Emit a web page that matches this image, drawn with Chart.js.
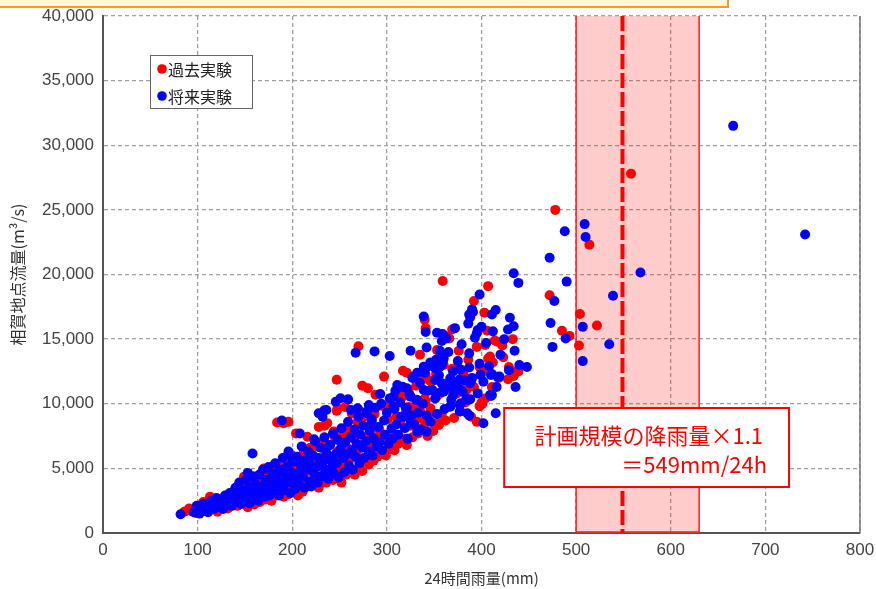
<!DOCTYPE html>
<html lang="ja">
<head>
<meta charset="utf-8">
<title>24時間雨量と相賀地点流量</title>
<script src="https://cdn.jsdelivr.net/npm/chart.js@4.4.1/dist/chart.umd.min.js"></script>
<style>
    html, body { margin: 0; padding: 0; background: #fff; overflow: hidden; }
    #wrap { position: relative; width: 876px; height: 589px; }
    #caption-edge {
        position: absolute; left: -4px; top: -12px; width: 729px; height: 16px;
        background: #fff8dc; border: 2px solid #ff9a1e;
    }
    canvas { position: absolute; left: 0; top: 0; }
</style>
</head>
<body>
<div id="wrap">
    <canvas id="chart" width="876" height="589"></canvas>
    <div id="caption-edge"></div>
</div>
<script>
// 24h rainfall (mm) vs peak discharge (m3/s), one [rain, flow] pair per run
const pastRuns = [
    [558, 27800], [478, 25000], [514, 22300], [407, 19100], [359, 19500], [472, 18400], [392, 17950],
    [403, 17050], [504, 16950], [522, 16050], [485, 15650], [493, 15250], [503, 14500],
    [340, 16500], [341, 15850], [369, 15750], [366, 15050], [364, 15200], [417, 14800], [422, 14500],
    [404, 14550], [406, 15650], [335, 13800], [409, 13650], [412, 13200], [353, 14150], [356, 13950],
    [270, 14450], [317, 12550], [321, 12400], [297, 12100], [398, 12850], [429, 12850], [433, 12500],
    [434, 12150], [384, 11050], [341, 12250], [347, 11700], [353, 10600], [340, 10400], [400, 10100],
    [401, 10000], [395, 8600], [247, 11850], [274, 11400], [280, 11200], [288, 10700], [248, 9650],
    [247, 9450], [256, 9750], [263, 9250], [272, 9400], [234, 8300], [191, 8500], [196, 8600],
    [184, 8550], [204, 7700], [216, 7450], [228, 8200], [237, 8500], [244, 7850], [191, 5800],
    [149, 4350], [93, 1700], [106, 2400], [113, 2800], [346, 9650], [353, 10750], [342, 8750],
    [355, 8350], [314, 10800], [323, 9750], [334, 8850], [339, 8200],
    // main cloud
    [86, 1650], [91, 1900], [98, 1550], [101, 2100], [107, 1700], [110, 2400], [113, 1800],
    [118, 2150], [121, 1650], [123, 2600], [127, 2000], [130, 2400],
    [132, 1900], [135, 2900], [137, 2400], [139, 3300], [142, 2100], [144, 2700], [147, 3600],
    [149, 2300], [150, 3100], [153, 2000], [154, 3900], [156, 2600], [159, 3400], [160, 2200],
    [162, 4300], [163, 3000], [166, 2400], [167, 3800], [169, 3200], [170, 5000], [172, 2600],
    [173, 4400], [175, 3100], [177, 3700], [178, 2500], [180, 4800], [181, 3400], [183, 2900],
    [185, 5200], [186, 4000], [188, 3100], [189, 4500],
    [191, 2800], [193, 3700], [195, 5400], [196, 3000], [198, 4400], [200, 6000], [201, 3300],
    [203, 5100], [204, 3800], [206, 2900], [208, 5700], [209, 4200], [211, 3200], [212, 6200],
    [214, 4700], [216, 3600], [218, 5000], [219, 6600],
    [221, 3800], [223, 5500], [225, 4200], [226, 6700], [228, 3500], [229, 5200], [231, 7000],
    [233, 4500], [235, 5900], [236, 3900], [238, 6800], [240, 4900], [241, 5600], [243, 4100],
    [245, 7400], [247, 4600], [248, 6300], [250, 5100],
    [252, 3900], [253, 7600], [255, 5500], [257, 4500], [258, 6600], [260, 8000], [261, 4900],
    [263, 5800], [265, 7300], [266, 4500], [268, 6200], [269, 8600], [271, 5200], [273, 6800],
    [274, 4800], [276, 9000], [278, 5600], [279, 7400],
    [281, 5300], [283, 8400], [284, 6600], [286, 5600], [287, 9200], [289, 7400], [290, 5900],
    [292, 8000], [294, 6200], [296, 9800], [297, 7200], [299, 6000], [301, 8800], [303, 6500],
    [304, 10000], [306, 7600], [308, 6400], [310, 9000],
    [312, 6900], [314, 8600], [316, 10500], [318, 7300], [320, 9300], [321, 6800], [323, 11100],
    [325, 8300], [327, 7400], [329, 9800], [331, 11400], [333, 7700], [335, 9500], [337, 12000],
    [339, 8000], [341, 10200], [343, 7500], [345, 11800], [347, 9300], [349, 7900],
    [352, 12300], [354, 8500], [356, 10800], [358, 9200], [360, 13000], [362, 8700], [364, 11200],
    [367, 9800], [369, 12700], [371, 8900], [374, 10800], [376, 14100], [378, 9400], [381, 12300],
    [383, 10100], [386, 13400], [389, 9000], [392, 11300], [395, 14400], [398, 9800],
    [401, 12600], [404, 10400], [407, 13500], [411, 11300], [414, 14900], [418, 12000], [423, 13600],
    [428, 11900], [433, 15000], [439, 12500]
];

const futureRuns = [
    [666, 31500], [742, 23100], [488, 23350], [509, 23900], [510, 22900], [472, 21300], [568, 20150],
    [434, 20100], [439, 19350], [490, 19450], [539, 18350], [398, 18450], [477, 17950], [390, 17300],
    [387, 16900], [415, 17250], [411, 16900], [507, 15950], [473, 16250], [489, 15050], [535, 14600],
    [475, 14400], [507, 13300],
    [339, 16750], [341, 15550], [372, 15850], [386, 16200], [388, 16700], [391, 17100], [395, 15450],
    [400, 15950], [396, 15700], [428, 15750], [434, 16000], [430, 16650], [448, 12850],
    [353, 15500], [359, 15400], [363, 15050], [358, 14850], [356, 14100], [342, 14350], [325, 14100],
    [303, 13700], [287, 14050], [267, 13950], [346, 13200], [352, 13400], [360, 13500], [358, 13000],
    [332, 12400], [342, 12850], [359, 13250],
    [378, 12650], [387, 12800], [399, 12250], [411, 12300], [419, 12100], [436, 11300], [410, 10600],
    [388, 10350], [378, 11100], [389, 11800], [370, 10650], [377, 11900], [377, 9400], [387, 9100],
    [339, 12870], [346, 13130], [351, 12740], [356, 12870], [351, 11840], [358, 11580], [348, 11065],
    [360, 10930], [367, 11320], [367, 11970], [377, 12665], [374, 11580], [380, 10930], [388, 11580],
    [399, 12225], [410, 12225], [417, 12090], [411, 10680], [386, 10290], [339, 11065], [325, 10550],
    [332, 10290], [321, 9650], [307, 10550],
    [307, 9770], [318, 9000], [325, 8490], [332, 7835], [342, 7835], [367, 9770], [378, 10030],
    [385, 9260], [402, 8490], [409, 10680], [415, 9260],
    [293, 10750], [311, 11450], [316, 11320], [321, 11200], [328, 12090],
    [251, 10420], [259, 10340], [228, 9260], [236, 9515], [232, 9000], [262, 9515], [269, 9650],
    [281, 9900], [279, 9260], [284, 8610],
    [189, 8700], [208, 7700], [223, 7250], [234, 9500], [246, 10150], [196, 6100], [158, 6150],
    [153, 4650], [82, 1450], [102, 1500], [110, 2100], [117, 2400],
    // main cloud
    [96, 1600], [99, 2100], [103, 1750], [106, 2250], [109, 1950], [111, 1600], [114, 2450],
    [117, 1850], [120, 2700], [122, 2050], [124, 2350], [127, 1850], [129, 2900], [131, 2250],
    [133, 2650], [134, 3100], [136, 2100], [138, 2900], [140, 3500], [141, 2400], [143, 2750],
    [144, 3900], [146, 2250], [148, 3250], [149, 2600], [151, 4100], [152, 2900], [154, 3500],
    [155, 2300], [157, 3100], [158, 4400], [160, 2700],
    [161, 3800], [162, 3300], [164, 2500], [165, 4500], [167, 3000], [168, 3600], [169, 4900],
    [171, 2800], [172, 4100], [174, 3400], [175, 5100], [176, 2900], [178, 3900], [179, 4600],
    [180, 3200], [182, 5400], [183, 3600], [184, 4200], [186, 2900], [187, 4900], [188, 3800],
    [190, 5800],
    [191, 3300], [192, 4400], [194, 5100], [195, 3900], [196, 6300], [198, 3100], [199, 4700],
    [200, 5500], [202, 4100], [203, 3400], [205, 5900], [206, 4600], [207, 3700], [209, 5200],
    [210, 6700], [211, 4300], [213, 3500], [214, 5600], [215, 4900], [217, 6300], [218, 4000],
    [219, 5300], [220, 3600],
    [222, 6000], [223, 4600], [224, 7100], [226, 5100], [227, 3900], [228, 5800], [230, 6600],
    [231, 4400], [232, 5400], [234, 7400], [235, 4900], [236, 6200], [238, 4200], [239, 5700],
    [240, 6800], [242, 5100], [243, 7700], [244, 4600], [246, 6100], [247, 5400], [248, 7200],
    [249, 4300],
    [251, 6500], [252, 8100], [254, 5800], [255, 4700], [256, 7000], [258, 6100], [259, 8600],
    [260, 5200], [262, 7400], [263, 6400], [264, 4900], [266, 8000], [267, 5900], [268, 6900],
    [270, 9000], [271, 5400], [272, 7600], [274, 6600], [275, 8300], [276, 5800], [278, 7100],
    [279, 9400],
    [281, 6300], [282, 7900], [284, 8800], [285, 6000], [286, 7300], [288, 9700], [289, 6700],
    [291, 8200], [292, 7000], [294, 10000], [295, 6400], [297, 8700], [298, 7600], [300, 9300],
    [302, 6900], [303, 10400], [305, 8100], [306, 7300], [308, 9600], [309, 11000], [310, 8400],
    [312, 7600], [314, 10100], [315, 9000], [317, 11300], [319, 8100], [320, 9700], [322, 7300],
    [324, 10700], [326, 9100], [327, 12000], [329, 8400], [331, 10300], [333, 9300], [335, 11600],
    [336, 8000], [338, 10000], [340, 12400], [342, 9100], [344, 11000], [346, 8600], [348, 12900],
    [351, 10400], [353, 9200], [355, 12200], [357, 10900], [359, 13600], [361, 9600], [363, 11500],
    [365, 14000], [368, 10300], [370, 12500], [372, 11000], [375, 13300], [377, 9900], [379, 14600],
    [382, 11800], [384, 10400], [387, 13900], [390, 12000], [393, 15100], [396, 10800], [398, 13100],
    [402, 11700], [405, 14700], [408, 12900], [412, 15600], [416, 11300], [420, 13800], [424, 15000],
    [429, 12600], [435, 14100], [440, 13000]
];

const seriesNames = ['過去実験', '将来実験'];
const rainTicks = { min: 0, max: 800, step: 100 };
const flowTicks = { min: 0, max: 40000, step: 5000 };

// shaded design range and the design rainfall line
const designRange = [500, 630];
const designRain = 549;
const noteLines = ['計画規模の降雨量×1.1', '＝549mm/24h'];
const noteBox = { xMin: 424, xMax: 725, yMin: 3560, yMax: 9670 };

const tickFont = { family: '"Liberation Sans Narrow", "Liberation Sans", sans-serif', size: 17 };
const jpFont = '"Noto Sans CJK JP", sans-serif';

const designBand = {
    id: 'designBand',
    beforeDatasetsDraw(chart) {
        const { ctx, chartArea: area, scales: { x } } = chart;
        const left = x.getPixelForValue(designRange[0]);
        const right = x.getPixelForValue(designRange[1]);
        ctx.save();
        ctx.fillStyle = 'rgba(255, 0, 0, 0.2)';
        ctx.fillRect(left, area.top, right - left, area.bottom - area.top);
        ctx.strokeStyle = '#ff2020';
        ctx.lineWidth = 1.5;
        ctx.beginPath();
        ctx.moveTo(left, area.top);
        ctx.lineTo(left, area.bottom - 1);
        ctx.lineTo(right, area.bottom - 1);
        ctx.lineTo(right, area.top);
        ctx.stroke();

        const lx = x.getPixelForValue(designRain);
        ctx.strokeStyle = '#ff0000';
        ctx.lineWidth = 4;
        ctx.setLineDash([15, 4]);
        ctx.beginPath();
        ctx.moveTo(lx, area.top);
        ctx.lineTo(lx, area.bottom);
        ctx.stroke();
        ctx.restore();
    },
};

const overlays = {
    id: 'overlays',
    afterDatasetsDraw(chart) {
        const { ctx, chartArea: area, scales: { x, y } } = chart;
        ctx.save();

        // right frame edge
        ctx.strokeStyle = '#777';
        ctx.lineWidth = 1.5;
        ctx.beginPath();
        ctx.moveTo(area.right, area.top);
        ctx.lineTo(area.right, area.bottom);
        ctx.stroke();

        // legend
        const lx = area.left + 47, ly = area.top + 39;
        ctx.fillStyle = '#fff';
        ctx.fillRect(lx, ly, 102, 53);
        ctx.strokeStyle = '#666';
        ctx.lineWidth = 1;
        ctx.strokeRect(lx + 0.5, ly + 0.5, 102, 53);
        ctx.font = `16px ${jpFont}`;
        ctx.textBaseline = 'middle';
        ctx.textAlign = 'left';
        chart.data.datasets.forEach((ds, i) => {
            const cy = ly + 14 + i * 27;
            ctx.fillStyle = ds.backgroundColor;
            ctx.beginPath();
            ctx.arc(lx + 12, cy, 4.8, 0, Math.PI * 2);
            ctx.fill();
            ctx.fillStyle = '#222';
            ctx.fillText(ds.label, lx + 18, cy + 1);
        });

        // design rainfall note
        const bx = x.getPixelForValue(noteBox.xMin);
        const bw = x.getPixelForValue(noteBox.xMax) - bx;
        const by = y.getPixelForValue(noteBox.yMax);
        const bh = y.getPixelForValue(noteBox.yMin) - by;
        ctx.fillStyle = '#fff';
        ctx.fillRect(bx, by, bw, bh);
        ctx.strokeStyle = '#ff0000';
        ctx.lineWidth = 2;
        ctx.strokeRect(bx, by, bw, bh);
        ctx.fillStyle = '#ff0000';
        ctx.font = `22px ${jpFont}`;
        ctx.textAlign = 'right';
        ctx.fillText(noteLines[0], bx + bw - 26, by + 28);
        ctx.fillText(noteLines[1], bx + bw - 22, by + 57);
        ctx.restore();
    },
};

function buildChart() {
    const el = document.getElementById('chart');
    const points = (runs) => runs.map(([x, y]) => ({ x, y }));

    new Chart(el, {
        type: 'scatter',
        data: {
            datasets: [
                { label: seriesNames[0], data: points(pastRuns), backgroundColor: '#ff0000', order: 2 },
                { label: seriesNames[1], data: points(futureRuns), backgroundColor: '#0000ff', order: 1 },
            ],
        },
        options: {
            responsive: false,
            devicePixelRatio: 1,
            animation: false,
            events: [],
            layout: { autoPadding: false, padding: { top: 16, right: 16, left: 0, bottom: 0 } },
            elements: { point: { radius: 5, borderWidth: 0, hoverRadius: 5 } },
            plugins: { legend: { display: false }, tooltip: { enabled: false } },
            scales: {
                x: {
                    type: 'linear',
                    min: rainTicks.min,
                    max: rainTicks.max,
                    afterFit: (s) => {
                        s.height = 56;
                        s.paddingLeft = 0;
                        s.paddingRight = 0;
                    },
                    ticks: { stepSize: rainTicks.step, padding: 7, color: '#444', font: tickFont },
                    grid: { color: '#a0a0a0', lineWidth: 1.3, drawTicks: false },
                    border: { display: true, color: '#555', width: 2, dash: [4, 3] },
                    title: {
                        display: true,
                        text: '24時間雨量(mm)',
                        color: '#333',
                        font: { family: jpFont, size: 15 },
                        padding: { top: 0, bottom: 2 },
                    },
                },
                y: {
                    type: 'linear',
                    min: flowTicks.min,
                    max: flowTicks.max,
                    afterFit: (s) => {
                        s.width = 103;
                        s.paddingTop = 0;
                        s.paddingBottom = 0;
                    },
                    ticks: { stepSize: flowTicks.step, padding: 9, color: '#444', font: tickFont },
                    grid: { color: '#a0a0a0', lineWidth: 1.3, drawTicks: false },
                    border: { display: true, color: '#555', width: 2, dash: [4, 3] },
                    title: {
                        display: true,
                        text: '相賀地点流量(m³/s)',
                        color: '#333',
                        font: { family: jpFont, size: 16 },
                        padding: { top: 8, bottom: 0 },
                    },
                },
            },
        },
        plugins: [designBand, overlays],
    });
}

document.addEventListener('DOMContentLoaded', buildChart);
</script>
</body>
</html>
